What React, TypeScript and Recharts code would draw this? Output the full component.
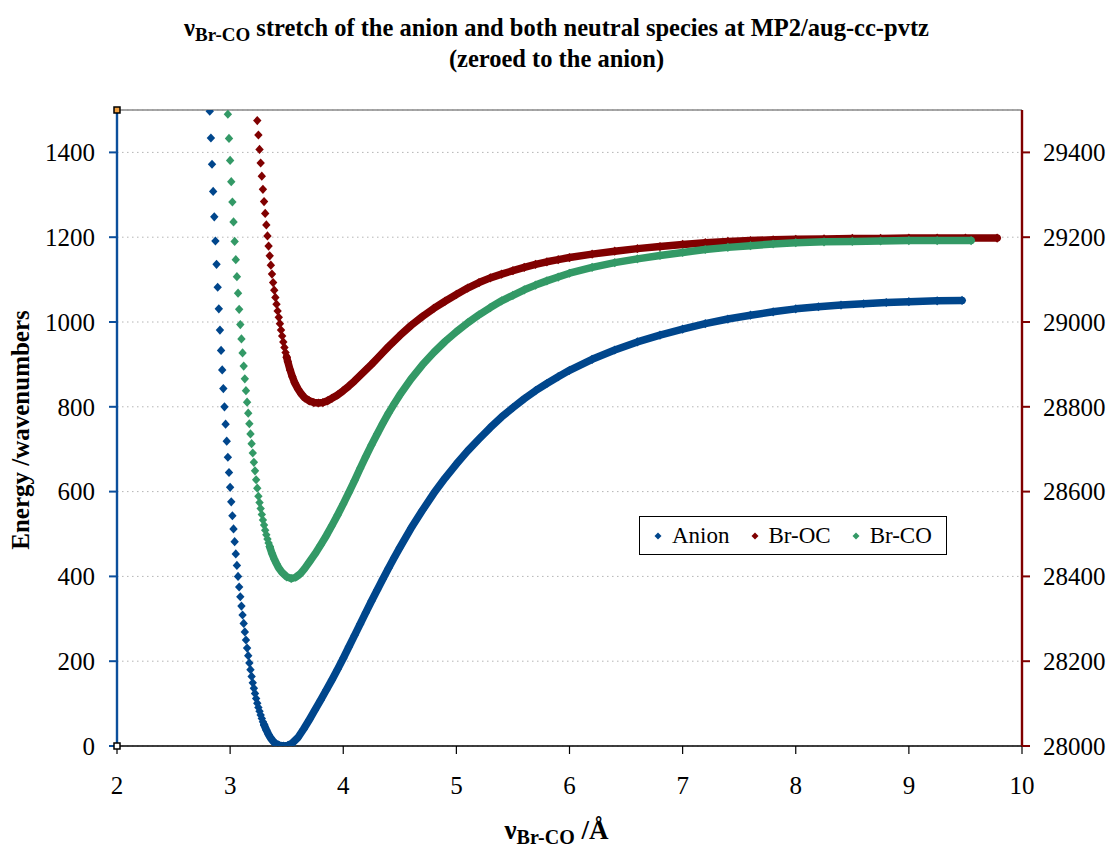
import React from 'react';
import {
  ScatterChart,
  Scatter,
  XAxis,
  YAxis,
  CartesianGrid,
  Legend,
  ReferenceLine,
  ReferenceDot,
} from 'recharts';

const FONT = '"Liberation Serif", "Times New Roman", Times, serif';

const xTicks = [2, 3, 4, 5, 6, 7, 8, 9, 10];
const leftTicks = [0, 200, 400, 600, 800, 1000, 1200, 1400];
const rightTicks = [28000, 28200, 28400, 28600, 28800, 29000, 29200, 29400];
const xDomain: [number, number] = [2, 10];
const leftDomain: [number, number] = [0, 1500];
const rightDomain: [number, number] = [28000, 29500];

const seriesNames = ['Anion', 'Br-OC', 'Br-CO'];
const seriesColors = ['#00468C', '#800000', '#339966'];
const leftAxisColor = '#0B4F9C';
const rightAxisColor = '#800000';

// Anion (left axis) – individually visible points on the steep wall
const anionSteep: number[][] = [
  [2.82, 1497], [2.83, 1434], [2.84, 1372], [2.85, 1308], [2.86, 1248], [2.87, 1191],
  [2.88, 1136], [2.89, 1082], [2.9, 1031], [2.91, 981], [2.92, 933], [2.93, 887],
  [2.94, 843], [2.95, 800], [2.96, 759], [2.97, 719], [2.98, 681], [2.99, 645],
  [3.0, 610], [3.01, 576], [3.02, 543], [3.03, 512], [3.04, 482], [3.05, 453],
  [3.06, 426], [3.07, 400], [3.08, 375], [3.09, 352], [3.1, 330], [3.11, 309],
  [3.12, 289], [3.13, 269], [3.14, 250], [3.15, 231], [3.16, 213], [3.17, 196],
  [3.18, 180], [3.19, 164], [3.2, 149], [3.21, 136], [3.22, 124], [3.23, 112],
  [3.24, 101], [3.25, 91], [3.26, 82], [3.27, 73], [3.28, 65], [3.29, 57], [3.3, 50],
];
// Anion – dense part of the curve (markers merge into a band)
const anionBand: number[][] = [
  [3.3, 50], [3.32, 38], [3.34, 27], [3.36, 18], [3.38, 11], [3.4, 6], [3.43, 2],
  [3.47, 0], [3.51, 1], [3.55, 7], [3.6, 20], [3.65, 40], [3.7, 62], [3.75, 85],
  [3.8, 108], [3.85, 132], [3.9, 156], [3.95, 181], [4.0, 207], [4.05, 234],
  [4.1, 261], [4.15, 288], [4.2, 315], [4.25, 342], [4.3, 368], [4.35, 394],
  [4.4, 419], [4.45, 444], [4.5, 468], [4.6, 514], [4.7, 556], [4.8, 596],
  [4.9, 632], [5.0, 665], [5.1, 696], [5.2, 724], [5.3, 751], [5.4, 776],
  [5.5, 798], [5.6, 819], [5.7, 838], [5.8, 855], [5.9, 871], [6.0, 886],
  [6.2, 912], [6.4, 934], [6.6, 953], [6.8, 969], [7.0, 983], [7.2, 996],
  [7.4, 1007], [7.6, 1016], [7.8, 1024], [8.0, 1031], [8.2, 1036], [8.4, 1040],
  [8.6, 1043], [8.8, 1046], [9.0, 1048], [9.25, 1050], [9.47, 1051],
];

// Br-OC (right axis)
const brOcSteep: number[][] = [
  [3.24, 29475], [3.25, 29441], [3.26, 29407], [3.27, 29375], [3.28, 29344],
  [3.29, 29313], [3.3, 29284], [3.31, 29256], [3.32, 29229], [3.33, 29203],
  [3.34, 29179], [3.35, 29156], [3.36, 29134], [3.37, 29113], [3.38, 29093],
  [3.39, 29075], [3.4, 29058], [3.41, 29042], [3.42, 29026], [3.43, 29011],
  [3.44, 28996], [3.45, 28981], [3.46, 28967], [3.47, 28953], [3.48, 28940],
  [3.49, 28928], [3.5, 28917],
];
const brOcBand: number[][] = [
  [3.5, 28917], [3.51, 28906], [3.53, 28887], [3.55, 28871], [3.57, 28857],
  [3.6, 28842], [3.63, 28830], [3.66, 28821], [3.7, 28814], [3.74, 28810],
  [3.78, 28809], [3.82, 28810], [3.86, 28814], [3.9, 28820], [3.95, 28828],
  [4.0, 28838], [4.05, 28849], [4.1, 28861], [4.15, 28874], [4.2, 28887],
  [4.25, 28900], [4.3, 28914], [4.35, 28928], [4.4, 28942], [4.45, 28955],
  [4.5, 28968], [4.6, 28992], [4.7, 29013], [4.8, 29032], [4.9, 29049],
  [5.0, 29065], [5.1, 29080], [5.2, 29093], [5.3, 29104], [5.4, 29113],
  [5.5, 29121], [5.6, 29129], [5.7, 29136], [5.8, 29142], [5.9, 29147],
  [6.0, 29152], [6.2, 29160], [6.4, 29167], [6.6, 29173], [6.8, 29178],
  [7.0, 29183], [7.2, 29187], [7.4, 29190], [7.6, 29192], [7.8, 29194],
  [8.0, 29195], [8.25, 29196], [8.5, 29197], [8.75, 29197], [9.0, 29198],
  [9.25, 29198], [9.5, 29198], [9.78, 29198],
];

// Br-CO (left axis)
const brCoSteep: number[][] = [
  [2.98, 1490], [2.99, 1433], [3.0, 1381], [3.01, 1331], [3.02, 1283], [3.03, 1236],
  [3.04, 1190], [3.05, 1147], [3.06, 1107], [3.07, 1068], [3.08, 1030], [3.09, 994],
  [3.1, 960], [3.11, 927], [3.12, 896], [3.13, 866], [3.14, 838], [3.15, 811],
  [3.16, 785], [3.17, 760], [3.18, 736], [3.19, 713], [3.2, 691], [3.21, 669],
  [3.22, 649], [3.23, 628], [3.24, 608], [3.25, 589], [3.26, 574], [3.27, 560],
  [3.28, 546], [3.29, 533], [3.3, 521], [3.31, 509], [3.32, 498], [3.33, 488],
  [3.34, 479], [3.35, 470],
];
const brCoBand: number[][] = [
  [3.35, 470], [3.37, 454], [3.39, 441], [3.41, 430], [3.43, 420], [3.46, 409],
  [3.5, 399], [3.54, 395], [3.58, 398], [3.62, 406], [3.66, 419], [3.7, 434],
  [3.75, 453], [3.8, 474], [3.85, 496], [3.9, 520], [3.95, 545], [4.0, 571],
  [4.05, 598], [4.1, 626], [4.15, 655], [4.2, 683], [4.25, 710], [4.3, 736],
  [4.35, 761], [4.4, 785], [4.45, 807], [4.5, 828], [4.6, 866], [4.7, 899],
  [4.8, 928], [4.9, 954], [5.0, 977], [5.1, 998], [5.2, 1017], [5.3, 1034],
  [5.4, 1050], [5.5, 1063], [5.6, 1076], [5.7, 1087], [5.8, 1097], [5.9, 1106],
  [6.0, 1115], [6.2, 1129], [6.4, 1140], [6.6, 1149], [6.8, 1157], [7.0, 1164],
  [7.2, 1171], [7.4, 1176], [7.6, 1180], [7.8, 1184], [8.0, 1187], [8.25, 1189],
  [8.5, 1190], [8.75, 1191], [9.0, 1192], [9.25, 1192], [9.55, 1192],
];

const toPts = (arr: number[][]) => arr.map(([x, y]) => ({ x, y }));

const Diamond = (props: any) => {
  const { cx, cy, fill } = props;
  if (cx == null || cy == null) return <g />;
  return (
    <path
      d={`M${cx},${cy - 4.6}L${cx + 4.2},${cy}L${cx},${cy + 4.6}L${cx - 4.2},${cy}Z`}
      fill={fill}
    />
  );
};

const CornerMark = (fillColor: string) => (props: any) => {
  const { cx, cy } = props;
  if (cx == null || cy == null) return <g />;
  return (
    <rect x={cx - 3} y={cy - 3} width={6} height={6} fill={fillColor} stroke="#000" strokeWidth={1.5} />
  );
};

const tickStyle = { fontSize: 25, fontFamily: FONT, fill: '#000' };

const renderLegend = (props: any) => {
  const payload = (props.payload || [])
    .filter((p: any) => p.type !== 'none' && seriesNames.includes(p.value))
    .sort((a: any, b: any) => seriesNames.indexOf(a.value) - seriesNames.indexOf(b.value));
  return (
    <div
      style={{
        width: 308,
        height: 39,
        boxSizing: 'border-box',
        border: '1.5px solid #000',
        background: '#fff',
        display: 'flex',
        alignItems: 'center',
        paddingLeft: 14,
        fontFamily: FONT,
        fontSize: 23,
        color: '#000',
      }}
    >
      {payload.map((p: any, i: number) => (
        <div key={p.value} style={{ display: 'flex', alignItems: 'center', marginLeft: i === 0 ? 0 : 21 }}>
          <svg width={8} height={8} style={{ display: 'block' }}>
            <path d="M4,0.5L7.5,4L4,7.5L0.5,4Z" fill={p.color} />
          </svg>
          <span style={{ marginLeft: 10, lineHeight: '26px' }}>{p.value}</span>
        </div>
      ))}
    </div>
  );
};

const bandLine = (color: string) => ({
  stroke: color,
  strokeWidth: 7.5,
  strokeLinejoin: 'round' as const,
  strokeLinecap: 'round' as const,
});

const subStyle: React.CSSProperties = { fontSize: 19, verticalAlign: -5, lineHeight: 0 };

export default function App() {
  return (
    <div
      style={{
        position: 'absolute',
        left: 0,
        top: 0,
        width: 1113,
        height: 849,
        background: '#fff',
        fontFamily: FONT,
      }}
    >
      <ScatterChart
        width={1113}
        height={849}
        margin={{ top: 110, right: 11, bottom: 63, left: 57 }}
      >
        <CartesianGrid
          yAxisId="left"
          vertical={false}
          stroke="#b4b4b4"
          strokeDasharray="1.5 3.5"
        />
        <XAxis
          type="number"
          dataKey="x"
          domain={xDomain}
          ticks={xTicks}
          interval={0}
          allowDataOverflow
          height={40}
          tickSize={8}
          tickMargin={22}
          axisLine={{ stroke: '#000', strokeWidth: 1.3 }}
          tickLine={{ stroke: '#000', strokeWidth: 1.2 }}
          tick={tickStyle}
        />
        <YAxis
          yAxisId="left"
          type="number"
          dataKey="y"
          domain={leftDomain}
          ticks={leftTicks}
          interval={0}
          allowDataOverflow
          width={60}
          tickSize={8}
          tickMargin={14}
          axisLine={{ stroke: leftAxisColor, strokeWidth: 2.4 }}
          tickLine={{ stroke: leftAxisColor, strokeWidth: 2 }}
          tick={tickStyle}
        />
        <YAxis
          yAxisId="right"
          orientation="right"
          type="number"
          dataKey="y"
          domain={rightDomain}
          ticks={rightTicks}
          interval={0}
          allowDataOverflow
          width={80}
          tickSize={8}
          tickMargin={13}
          axisLine={{ stroke: rightAxisColor, strokeWidth: 2.4 }}
          tickLine={{ stroke: rightAxisColor, strokeWidth: 2 }}
          tick={tickStyle}
        />
        <ReferenceLine yAxisId="left" y={leftDomain[1]} stroke="#8a8a8a" strokeWidth={1.5} />

        <Scatter
          yAxisId="left"
          name="Anion band"
          data={toPts(anionBand)}
          fill={seriesColors[0]}
          line={bandLine(seriesColors[0])}
          lineJointType="linear"
          shape={(p: any) => <Diamond {...p} />}
          legendType="none"
          isAnimationActive={false}
        />
        <Scatter
          yAxisId="left"
          name={seriesNames[0]}
          data={toPts(anionSteep)}
          fill={seriesColors[0]}
          shape={(p: any) => <Diamond {...p} />}
          legendType="diamond"
          isAnimationActive={false}
        />
        <Scatter
          yAxisId="right"
          name="Br-OC band"
          data={toPts(brOcBand)}
          fill={seriesColors[1]}
          line={bandLine(seriesColors[1])}
          lineJointType="linear"
          shape={(p: any) => <Diamond {...p} />}
          legendType="none"
          isAnimationActive={false}
        />
        <Scatter
          yAxisId="right"
          name={seriesNames[1]}
          data={toPts(brOcSteep)}
          fill={seriesColors[1]}
          shape={(p: any) => <Diamond {...p} />}
          legendType="diamond"
          isAnimationActive={false}
        />
        <Scatter
          yAxisId="left"
          name="Br-CO band"
          data={toPts(brCoBand)}
          fill={seriesColors[2]}
          line={bandLine(seriesColors[2])}
          lineJointType="linear"
          shape={(p: any) => <Diamond {...p} />}
          legendType="none"
          isAnimationActive={false}
        />
        <Scatter
          yAxisId="left"
          name={seriesNames[2]}
          data={toPts(brCoSteep)}
          fill={seriesColors[2]}
          shape={(p: any) => <Diamond {...p} />}
          legendType="diamond"
          isAnimationActive={false}
        />
        <ReferenceDot yAxisId="left" x={xDomain[0]} y={leftDomain[1]} shape={CornerMark('#f0a040')} />
        <ReferenceDot yAxisId="left" x={xDomain[0]} y={leftDomain[0]} shape={CornerMark('#ffffff')} />
        <Legend
          layout="horizontal"
          verticalAlign="middle"
          align="center"
          content={renderLegend}
          wrapperStyle={{ position: 'absolute', left: 639, top: 516, width: 308, height: 39 }}
        />
      </ScatterChart>

      <div
        style={{
          position: 'absolute',
          left: 0,
          top: 12,
          width: 1113,
          textAlign: 'center',
          fontWeight: 'bold',
          fontSize: 24.5,
          lineHeight: '31px',
          color: '#000',
        }}
      >
        <div>
          ν<sub style={subStyle}>Br-CO</sub> stretch of the anion and both neutral species at MP2/aug-cc-pvtz
        </div>
        <div>(zeroed to the anion)</div>
      </div>

      <div
        style={{
          position: 'absolute',
          left: 0,
          top: 814,
          width: 1113,
          textAlign: 'center',
          fontWeight: 'bold',
          fontSize: 27,
          lineHeight: '32px',
          color: '#000',
        }}
      >
        ν<sub style={{ ...subStyle, fontSize: 20 }}>Br-CO</sub> /Å
      </div>

      <div
        style={{
          position: 'absolute',
          left: 21 - 200,
          top: 430 - 15,
          width: 400,
          height: 30,
          textAlign: 'center',
          fontWeight: 'bold',
          fontSize: 25,
          lineHeight: '30px',
          color: '#000',
          transform: 'rotate(-90deg)',
        }}
      >
        Energy /wavenumbers
      </div>
    </div>
  );
}
